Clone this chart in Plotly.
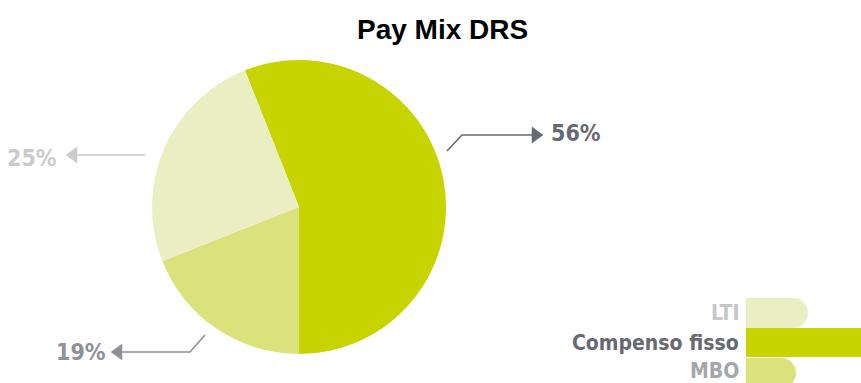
import plotly.graph_objects as go

W, H = 861, 383

# ---- data ----
labels = ["Compenso fisso", "MBO", "LTI"]
values = [56, 19, 25]
slice_colors = ["#c8d400", "#dbe17b", "#eaefc3"]
pct_text_colors = ["#676a70", "#8e9196", "#c9cacd"]
legend_order = ["LTI", "Compenso fisso", "MBO"]
legend_text_colors = {"LTI": "#c4c6c9", "Compenso fisso": "#676a70", "MBO": "#a3a6ab"}
title_text = "Pay Mix DRS"

COND = "Liberation Sans Narrow, DejaVu Sans Condensed, Roboto Condensed, Arial Narrow, sans-serif"


def px(x):
    return x / W


def py(y):
    return 1 - y / H


def path(points, close=False):
    s = "M " + " L ".join(f"{px(x)},{py(y)}" for x, y in points)
    return s + (" Z" if close else "")


start_angle = 360 - values[0] / 100 * 360 + 180  # first slice ends at the bottom

fig = go.Figure(go.Pie(
    labels=labels, values=values, sort=False, direction="clockwise",
    rotation=start_angle - 360,
    marker=dict(colors=slice_colors, line=dict(width=0)),
    textinfo="none", hoverinfo="label+percent", showlegend=False,
    domain=dict(x=[px(152), px(446)], y=[py(354), py(60)]),
))

shapes = []
annotations = []

# title
annotations.append(dict(text=f"<b>{title_text}</b>", x=px(442), y=py(30), xref="paper", yref="paper",
                        showarrow=False, xanchor="center", yanchor="middle",
                        font=dict(family="Liberation Sans, Arial, sans-serif", size=28, color="#000000")))

# percentage callouts
callouts = {
    "Compenso fisso": dict(line=[(447, 151), (462, 135), (533, 135)], tip=(543, 135), d=1,
                           tx=549, ty=133, xa="left"),
    "LTI": dict(line=[(145, 155), (75, 155)], tip=(66, 155), d=-1, tx=59, ty=158, xa="right"),
    "MBO": dict(line=[(205, 335), (190, 352), (121, 352)], tip=(111, 352), d=-1, tx=108, ty=352, xa="right"),
}
for lab, val, col in zip(labels, values, pct_text_colors):
    c = callouts[lab]
    shapes.append(dict(type="path", xref="paper", yref="paper", path=path(c["line"]),
                       line=dict(color=col, width=1.6)))
    tx, ty = c["tip"]
    bx = tx - c["d"] * 11
    shapes.append(dict(type="path", xref="paper", yref="paper",
                       path=path([(bx, ty - 8), (tx, ty), (bx, ty + 8)], close=True),
                       fillcolor=col, line=dict(color=col, width=0.5)))
    annotations.append(dict(text=f"<b>{val}%</b>", x=px(c["tx"]), y=py(c["ty"]), xref="paper", yref="paper",
                            showarrow=False, xanchor=c["xa"], yanchor="middle",
                            font=dict(family=COND, size=23, color=col)))

# custom legend
leg_geom = {
    "LTI": dict(y0=298, y1=328, xr=808, ty=313),
    "Compenso fisso": dict(y0=328, y1=357, xr=861, ty=343),
    "MBO": dict(y0=358, y1=388, xr=796, ty=371),
}
col_of = dict(zip(labels, slice_colors))
for lab in legend_order:
    g = leg_geom[lab]
    col = col_of[lab]
    r = (g["y1"] - g["y0"]) / 2
    if lab == "Compenso fisso":
        shapes.append(dict(type="rect", xref="paper", yref="paper", x0=px(746), x1=px(g["xr"]),
                           y0=py(g["y1"]), y1=py(g["y0"]), fillcolor=col, line=dict(width=0)))
    else:
        shapes.append(dict(type="rect", xref="paper", yref="paper", x0=px(746), x1=px(g["xr"] - r),
                           y0=py(g["y1"]), y1=py(g["y0"]), fillcolor=col, line=dict(width=0), layer="below"))
        shapes.append(dict(type="circle", xref="paper", yref="paper", x0=px(g["xr"] - 2 * r), x1=px(g["xr"]),
                           y0=py(g["y1"]), y1=py(g["y0"]), fillcolor=col, line=dict(width=0), layer="below"))
    annotations.append(dict(text=f"<b>{lab}</b>", x=px(741), y=py(g["ty"]), xref="paper", yref="paper",
                            showarrow=False, xanchor="right", yanchor="middle",
                            font=dict(family=COND, size=21, color=legend_text_colors[lab])))

fig.update_layout(
    width=W, height=H, margin=dict(l=0, r=0, t=0, b=0),
    paper_bgcolor="white", plot_bgcolor="white",
    shapes=shapes, annotations=annotations,
)

fig.write_html("out.html")
